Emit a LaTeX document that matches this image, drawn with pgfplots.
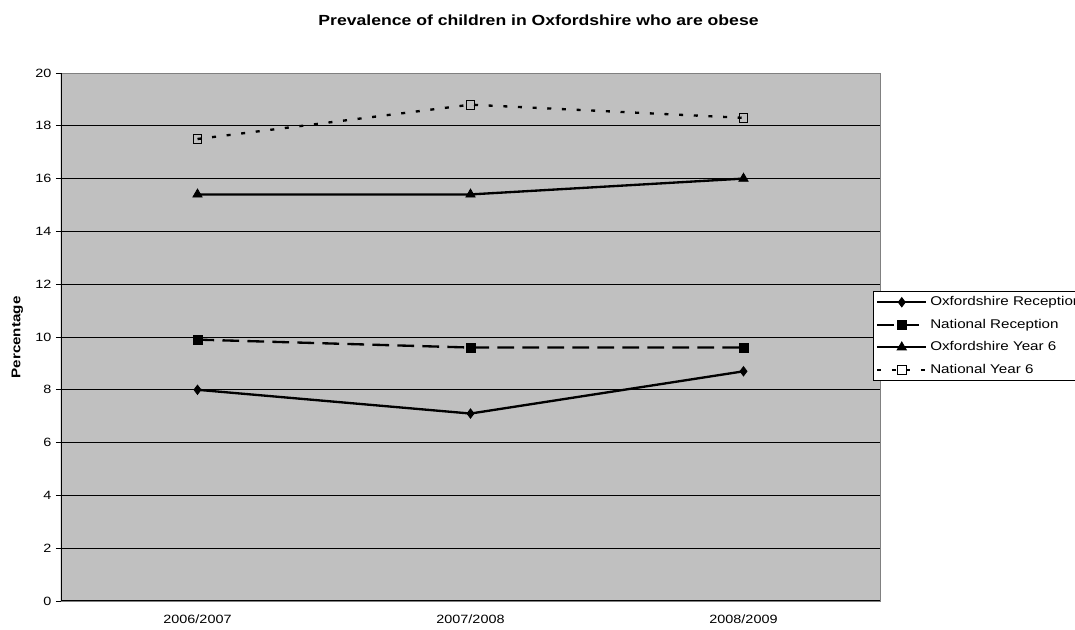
\documentclass[border=0pt]{standalone}
\usepackage{fontspec}
\setmainfont[FakeStretch=1.2]{Liberation Sans}
\usepackage{pgfplots}
\pgfplotsset{compat=1.18}
\definecolor{plotgray}{RGB}{192,192,192}
\definecolor{framegray}{RGB}{128,128,128}

\begin{document}
\begin{tikzpicture}
\begin{axis}[
  at={(45.75pt,21.75pt)}, anchor=south west,
  scale only axis, width=614.25pt, height=396pt,
  xmin=0, xmax=3, ymin=0, ymax=20,
  axis background/.style={fill=plotgray},
  axis line style={framegray, line width=0.6pt},
  ytick={0,2,...,20},
  ymajorgrids, grid style={black, line width=0.6pt},
  xtick={0.5,1.5,2.5},
  xticklabels={2006/2007,2007/2008,2008/2009},
  x tick style={draw=none},
  extra x ticks={0,1,2,3}, extra x tick labels={},
  extra x tick style={tick style={black, line width=0.6pt}, major tick length=3.75pt},
  xtick pos=bottom, ytick pos=left,
  tick align=outside, major tick length=3.75pt,
  y tick style={black, line width=0.6pt},
  tick label style={font=\fontsize{9}{11}\selectfont},
  xticklabel style={yshift=-3pt},
  /pgf/number format/assume math mode=true,
  legend cell align=left,
  legend style={at={(0.99145,0.587)}, anchor=north west, draw=black, fill=white,
    font=\fontsize{9.5}{11}\selectfont, row sep=4.5pt, inner xsep=2pt, inner ysep=2pt},
  legend image code/.code={\draw[mark repeat=2,mark phase=2,#1] plot coordinates {(0cm,0cm) (0.65cm,0cm) (1.3cm,0cm)};},
]
\addplot[black, line width=1.75pt, mark=diamond*, mark size=3.5pt, mark options={solid, line width=0.6pt}]
  coordinates {(0.5,8.0) (1.5,7.1) (2.5,8.7)};
\addlegendentry{Oxfordshire Reception}
\addplot[black, line width=1.75pt, dash pattern=on 12.5pt off 6.25pt, mark=square*, mark size=3.3pt, mark options={solid, line width=0.6pt}]
  coordinates {(0.5,9.9) (1.5,9.6) (2.5,9.6)};
\addlegendentry{National Reception}
\addplot[black, line width=1.75pt, mark=triangle*, mark size=4pt, mark options={solid, line width=0.6pt}]
  coordinates {(0.5,15.4) (1.5,15.4) (2.5,16.0)};
\addlegendentry{Oxfordshire Year 6}
\addplot[black, line width=1.75pt, dash pattern=on 3pt off 8pt, mark=square, mark size=3.3pt, mark options={solid, line width=0.8pt}]
  coordinates {(0.5,17.5) (1.5,18.8) (2.5,18.3)};
\addlegendentry{National Year 6}
\draw[black, line width=0.8pt] (rel axis cs:0,1) -- (rel axis cs:0,0) -- (rel axis cs:1,0);
\end{axis}
\node[font=\bfseries\fontsize{11}{13}\selectfont] at (403.9pt,457pt) {Prevalence of children in Oxfordshire who are obese};
\node[font=\bfseries\fontsize{9.5}{11}\selectfont, rotate=90] at (13.1pt,219.4pt) {Percentage};
\pgfresetboundingbox
\path (0,0) rectangle (806.25pt,472.5pt);
\end{tikzpicture}
\end{document}
